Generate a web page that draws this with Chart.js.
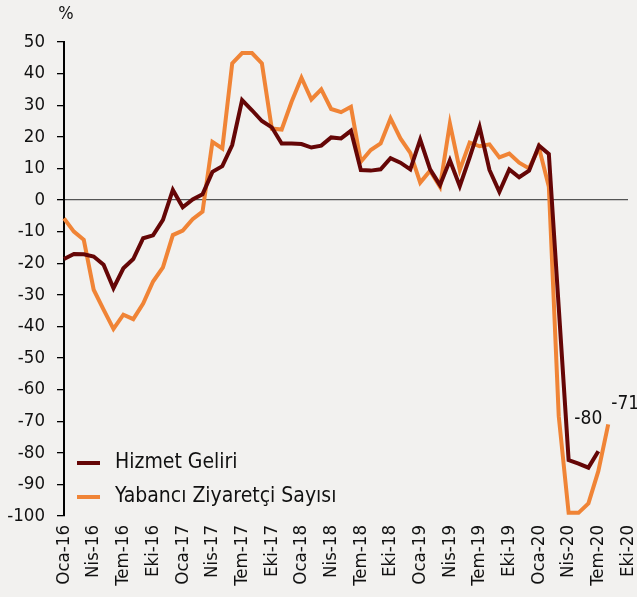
<!DOCTYPE html>
<html>
<head>
<meta charset="utf-8">
<script src="https://cdn.jsdelivr.net/npm/chart.js@4.4.1/dist/chart.umd.min.js"></script>
<style>
  html, body { margin:0; padding:0; background:#f2f1ef; }
  #wrap { width:637px; height:597px; }
</style>
</head>
<body>
<div id="wrap"><canvas id="c" width="637" height="597"></canvas></div>
<script>
// --- data (yıllık % değişim) ---
const monthNames = ['Oca','Şub','Mar','Nis','May','Haz','Tem','Ağu','Eyl','Eki','Kas','Ara'];
const years = ['16','17','18','19','20'];
const lastMonthIndex = 9; // axis runs to Eki-20

const hizmetGeliri = [
  -18.7, -17.1, -17.2, -17.9, -20.5, -27.9, -21.6, -18.7, -12.1, -11.2, -6.3, 3.2,
  -2.3, 0.2, 1.8, 8.9, 10.7, 17.4, 31.6, 28.4, 25.0, 23.0, 17.9, 17.9,
  17.7, 16.6, 17.2, 19.8, 19.5, 21.9, 9.5, 9.3, 9.7, 13.2, 11.8, 9.7,
  19.1, 9.7, 4.7, 12.6, 4.4, 13.5, 23.1, 9.5, 2.6, 9.7, 7.2, 9.3,
  17.2, 14.6, -34, -82.3, -83.4, -84.7, -79.5
];
const yabanciZiyaretci = [
  -5.8, -10, -12.6, -28.4, -34.7, -40.8, -36.3, -37.7, -32.8, -25.8, -21.3, -11.1,
  -9.7, -6.1, -3.7, 18.4, 16.3, 43.2, 46.5, 46.5, 43.2, 22.6, 22.3, 31.1,
  38.7, 31.8, 35, 28.8, 27.8, 29.5, 12.1, 15.8, 17.9, 25.8, 19.5, 14.9,
  5.5, 9.3, 4.2, 24.2, 9.5, 18.2, 17.0, 17.6, 13.5, 14.7, 11.8, 10,
  16.6, 4.2, -68.4, -99, -99, -96, -85.8, -71
];
const endLabels = ['-80', '-71'];

const labels = [];
years.forEach((y, yi) => {
  monthNames.forEach((m, mi) => {
    if (yi === years.length - 1 && mi > lastMonthIndex) return;
    labels.push(m + '-' + y);
  });
});

const FONT = '"DejaVu Sans Condensed", "DejaVu Sans", sans-serif';
const TEXT = '#111111';

// legend inside the plot + end labels + % sign
const overlay = {
  id: 'overlay',
  afterDatasetsDraw(chart) {
    const ctx = chart.ctx;
    const area = chart.chartArea;
    ctx.save();
    ctx.fillStyle = TEXT;

    // "%" above the y axis
    ctx.font = '18px ' + FONT;
    ctx.textAlign = 'center';
    ctx.textBaseline = 'middle';
    ctx.fillText('%', area.left + 2, 14);

    // values at the end of each line
    const offs = [[-10, -32], [17, -20]];
    ctx.font = '19px ' + FONT;
    chart.data.datasets.forEach((ds, i) => {
      const pts = chart.getDatasetMeta(i).data;
      const p = pts[pts.length - 1];
      ctx.fillText(endLabels[i], p.x + offs[i][0], p.y + offs[i][1]);
    });

    // legend
    ctx.font = '21px ' + FONT;
    ctx.textAlign = 'left';
    chart.data.datasets.forEach((ds, i) => {
      const y = area.bottom - 53 + i * 34;
      ctx.strokeStyle = ds.borderColor;
      ctx.lineWidth = 4;
      ctx.beginPath();
      ctx.moveTo(area.left + 13, y);
      ctx.lineTo(area.left + 36, y);
      ctx.stroke();
      ctx.fillStyle = TEXT;
      ctx.fillText(ds.label, area.left + 51, y);
    });
    ctx.restore();
  }
};

new Chart(document.getElementById('c'), {
  type: 'line',
  data: {
    labels,
    datasets: [
      { label: 'Hizmet Geliri', data: hizmetGeliri, borderColor: '#650606', borderWidth: 4, pointRadius: 0, tension: 0 },
      { label: 'Yabancı Ziyaretçi Sayısı', data: yabanciZiyaretci, borderColor: '#f08436', borderWidth: 4, pointRadius: 0, tension: 0 }
    ]
  },
  options: {
    responsive: false,
    animation: false,
    layout: { padding: { top: 42, right: 9, left: 0, bottom: 0 } },
    plugins: { legend: { display: false }, tooltip: { enabled: false } },
    scales: {
      x: {
        type: 'category',
        offset: false,
        grid: { display: false, drawTicks: false },
        border: { display: false },
        ticks: {
          autoSkip: false,
          minRotation: 90,
          maxRotation: 90,
          padding: 9,
          color: TEXT,
          font: { family: FONT, size: 18.5 },
          callback: (v, i) => (i % 3 === 0 ? labels[i] : '')
        },
        afterFit: s => { s.height = 81; s.paddingLeft = 0; s.paddingRight = 0; }
      },
      y: {
        min: -100,
        max: 50,
        ticks: { stepSize: 10, padding: 12, color: TEXT, font: { family: FONT, size: 18.5 } },
        grid: {
          color: c => (c.tick && c.tick.value === 0 ? '#555555' : 'rgba(0,0,0,0)'),
          lineWidth: 1.3,
          tickColor: '#000',
          tickLength: 7
        },
        border: { color: '#000', width: 2 },
        afterFit: s => { s.width = 64; s.paddingTop = 0; s.paddingBottom = 0; }
      }
    }
  },
  plugins: [overlay]
});
</script>
</body>
</html>
